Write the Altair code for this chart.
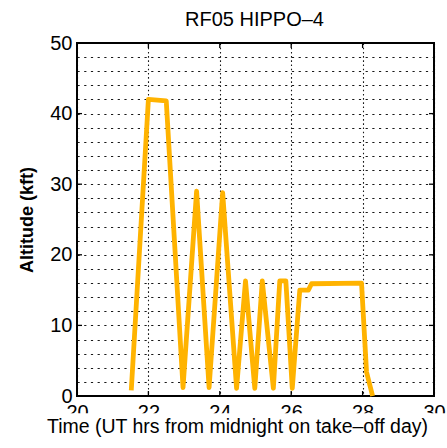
import altair as alt
import pandas as pd

# ---- data ----
times = [21.52, 22.00, 22.50, 22.97, 23.35, 23.70, 24.08, 24.47, 24.72, 24.98,
         25.19, 25.50, 25.68, 25.85, 26.03, 26.24, 26.48, 26.57, 27.97, 28.11, 28.28]
alts = [0.8, 42.0, 41.8, 1.2, 29.0, 1.2, 28.8, 1.1, 16.3, 1.1,
        16.3, 1.1, 16.3, 16.3, 1.1, 15.0, 15.0, 15.9, 16.0, 3.4, 0.0]
x_tick_values = [20, 22, 24, 26, 28, 30]
y_grid_values = list(range(0, 51, 2))
x_inner_ticks = [22, 24, 26, 28]
y_inner_ticks = [10, 20, 30, 40]
title_text = "RF05 HIPPO\u20134"
x_title = "Time (UT hrs from midnight on take\u2013off day)"
y_title = "Altitude (kft)"

W, H = 357, 353
FONT = "Liberation Sans"

df = pd.DataFrame({"t": times, "alt": alts, "idx": range(len(times))})
dfx = pd.DataFrame({"t": x_inner_ticks})
dfy = pd.DataFrame({"alt": y_inner_ticks})
one = pd.DataFrame({"k": [0]})

xscale = alt.Scale(domain=[20, 30], nice=False, zero=False)
yscale = alt.Scale(domain=[0, 50], nice=False)

xaxis = alt.Axis(values=x_tick_values, grid=True, gridDash=[1.6, 2.6], gridColor="black",
                 gridWidth=1.1, gridOpacity=0.9, ticks=False, domain=False,
                 labelFontSize=20, labelFont=FONT, labelColor="black", labelPadding=6.5,
                 labelFlush=False, title=None, zindex=0)
yaxis = alt.Axis(values=y_grid_values, grid=True, gridDash=[2.2, 4.5], gridColor="black",
                 gridWidth=1.2, gridOpacity=0.9, ticks=False, domain=False,
                 labelFontSize=20, labelFont=FONT, labelColor="black", labelPadding=5,
                 labelExpr="datum.value % 10 == 0 ? datum.label : ''",
                 title=y_title, titleFont=FONT, titleFontSize=18, titleFontWeight="bold",
                 titleColor="black", titleX=-50, titleY=H / 2, titleBaseline="middle",
                 zindex=0)

X = alt.X("t:Q", scale=xscale, axis=xaxis)
Y = alt.Y("alt:Q", scale=yscale, axis=yaxis)

line = alt.Chart(df).mark_line(color="#FFB300", strokeWidth=4.8, strokeJoin="round").encode(
    x=X, y=Y, order="idx:Q")

tick_b = alt.Chart(dfx).mark_rule(color="black", strokeWidth=1.3).encode(
    x=X, y=alt.value(H), y2=alt.value(H - 5))
tick_t = alt.Chart(dfx).mark_rule(color="black", strokeWidth=1.3).encode(
    x=X, y=alt.value(0), y2=alt.value(5))
tick_l = alt.Chart(dfy).mark_rule(color="black", strokeWidth=1.3).encode(
    y=Y, x=alt.value(0), x2=alt.value(5))
tick_r = alt.Chart(dfy).mark_rule(color="black", strokeWidth=1.3).encode(
    y=Y, x=alt.value(W), x2=alt.value(W - 5))

mask = alt.Chart(one).mark_rect(color="white").encode(
    x=alt.value(-20), x2=alt.value(W + 20), y=alt.value(H + 17.3), y2=alt.value(H + 32))

xtitle = alt.Chart(one).mark_text(text=x_title, font=FONT, fontSize=19.5, color="black",
                                  baseline="alphabetic", align="center").encode(
    x=alt.value(160.5), y=alt.value(H + 37))

top_title = alt.Chart(one).mark_text(text=title_text, font=FONT, fontSize=20, color="black",
                                     baseline="alphabetic", align="center").encode(
    x=alt.value(W / 2 - 1), y=alt.value(-17))

chart = alt.layer(line, tick_b, tick_t, tick_l, tick_r, mask, xtitle, top_title).properties(
    width=W, height=H,
    autosize=alt.AutoSizeParams(type="none"),
    padding={"left": 77, "top": 43, "right": 13, "bottom": 52},
).configure_view(stroke="black", strokeWidth=2)

chart.save("out.html", embed_options={"renderer": "svg", "actions": False})
